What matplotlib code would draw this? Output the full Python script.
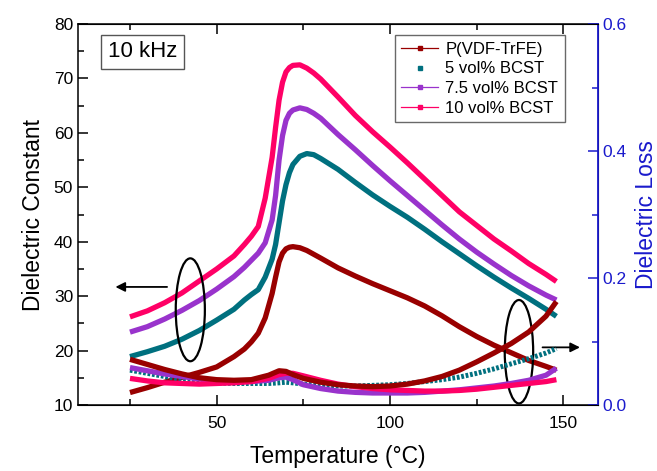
import numpy as np
import matplotlib.pyplot as plt
from matplotlib.patches import Ellipse
from matplotlib.lines import Line2D
from matplotlib.ticker import MultipleLocator

plt.rcParams['font.family'] = ['Liberation Sans', 'DejaVu Sans']

# temperatura (C)
temp = [25, 30, 35, 40, 45, 50, 55, 58, 60, 62, 64, 66, 67, 68, 69, 70, 71, 72,
        74, 76, 78, 80, 85, 90, 95, 100, 105, 110, 115, 120, 125, 130, 135, 140,
        145, 148]

# constante dielectrica
eps_pvdf = [12.3, 13.2, 14.2, 15.1, 16.0, 17.0, 18.9, 20.3, 21.6, 23.2, 26.0, 30.5,
            33.5, 36.3, 37.9, 38.7, 39.0, 39.1, 38.9, 38.4, 37.7, 37.0, 35.2, 33.7,
            32.3, 31.0, 29.7, 28.2, 26.4, 24.4, 22.6, 21.0, 19.6, 18.2, 17.1, 16.4]
eps_5 = [18.9, 19.8, 20.8, 22.1, 23.7, 25.6, 27.6, 29.3, 30.3, 31.2, 33.5, 36.8,
         39.5, 43.5, 47.5, 50.5, 52.7, 54.2, 55.7, 56.2, 56.0, 55.3, 53.3, 50.9,
         48.6, 46.5, 44.5, 42.3, 40.0, 37.8, 35.6, 33.5, 31.5, 29.6, 27.6, 26.3]
eps_75 = [23.4, 24.4, 25.8, 27.4, 29.2, 31.3, 33.6, 35.3, 36.6, 37.9, 39.8, 44.0,
          48.5, 55.0, 59.5, 62.3, 63.6, 64.2, 64.6, 64.3, 63.6, 62.7, 59.7, 56.9,
          54.0, 51.2, 48.5, 45.8, 43.1, 40.5, 38.1, 35.9, 33.8, 31.9, 30.2, 29.3]
eps_10 = [26.2, 27.3, 28.8, 30.6, 32.8, 35.0, 37.4, 39.5, 41.0, 42.8, 48.0, 55.5,
          61.0, 66.0, 69.3, 71.2, 72.0, 72.4, 72.5, 71.9, 71.0, 69.9, 66.6, 63.2,
          60.2, 57.4, 54.5, 51.5, 48.5, 45.5, 43.0, 40.5, 38.3, 36.0, 34.0, 32.7]

# perdida dielectrica
temp_loss = [25, 30, 35, 40, 45, 50, 55, 60, 65, 68, 70, 72, 75, 80, 85, 90, 95,
             100, 105, 110, 115, 120, 125, 130, 135, 140, 145, 148]
loss_pvdf = [0.072, 0.064, 0.056, 0.049, 0.043, 0.040, 0.039, 0.040, 0.047, 0.054,
             0.053, 0.048, 0.042, 0.036, 0.032, 0.030, 0.029, 0.030, 0.033, 0.038,
             0.045, 0.055, 0.068, 0.082, 0.097, 0.115, 0.140, 0.163]
loss_5 = [0.055, 0.050, 0.045, 0.040, 0.037, 0.035, 0.034, 0.034, 0.034, 0.035,
          0.036, 0.035, 0.033, 0.031, 0.030, 0.030, 0.031, 0.032, 0.034, 0.037,
          0.040, 0.044, 0.050, 0.057, 0.065, 0.073, 0.082, 0.089]
loss_75 = [0.059, 0.054, 0.049, 0.045, 0.041, 0.038, 0.037, 0.037, 0.039, 0.043,
           0.044, 0.040, 0.032, 0.026, 0.022, 0.020, 0.019, 0.019, 0.019, 0.020,
           0.022, 0.024, 0.027, 0.030, 0.034, 0.039, 0.047, 0.058]
loss_10 = [0.042, 0.038, 0.035, 0.034, 0.033, 0.034, 0.035, 0.037, 0.042, 0.048,
           0.050, 0.050, 0.046, 0.039, 0.033, 0.029, 0.026, 0.024, 0.023, 0.022,
           0.022, 0.023, 0.025, 0.028, 0.031, 0.034, 0.037, 0.040]

etiquetas = ['P(VDF-TrFE)', '5 vol% BCST', '7.5 vol% BCST', '10 vol% BCST']
colores = ['#990000', '#00707f', '#9933cc', '#ff0066']
azul = '#1a1acc'

fig = plt.figure(figsize=(6.57, 4.71), dpi=100)
ax = fig.add_axes([0.1187, 0.140, 0.7915, 0.809])
ax2 = ax.twinx()

lw = 3.8
for eps, c in zip([eps_pvdf, eps_5, eps_75, eps_10], colores):
    ax.plot(temp, eps, color=c, lw=lw, solid_capstyle='butt',
            solid_joinstyle='round', zorder=3)

ax2.plot(temp_loss, loss_5, color=colores[1], lw=3.6, ls=(0, (0.55, 0.35)), zorder=2)
ax2.plot(temp_loss, loss_75, color=colores[2], lw=lw, solid_capstyle='butt',
         solid_joinstyle='round', zorder=3)
ax2.plot(temp_loss, loss_10, color=colores[3], lw=lw, solid_capstyle='butt',
         solid_joinstyle='round', zorder=3)
ax2.plot(temp_loss, loss_pvdf, color=colores[0], lw=lw, solid_capstyle='butt',
         solid_joinstyle='round', zorder=4)

# elipses y flechas
ax.add_patch(Ellipse((42.4, 27.5), 8.4, 18.9, fill=False, ec='black', lw=1.6, zorder=5))
ax.annotate('', xy=(20.0, 31.7), xytext=(36.5, 31.7),
            arrowprops=dict(arrowstyle='-|>', color='black', lw=1.3, mutation_scale=14))
ax.add_patch(Ellipse((137.2, 19.8), 8.2, 19.0, fill=False, ec='black', lw=1.6, zorder=5))
ax.annotate('', xy=(155.6, 20.6), xytext=(143.2, 20.6),
            arrowprops=dict(arrowstyle='-|>', color='black', lw=1.3, mutation_scale=14))

ax.set_xlim(10, 160)
ax.set_ylim(10, 80)
ax2.set_ylim(0.0, 0.6)

ax.xaxis.set_major_locator(MultipleLocator(50))
ax.xaxis.set_minor_locator(MultipleLocator(25))
ax.yaxis.set_major_locator(MultipleLocator(10))
ax.yaxis.set_minor_locator(MultipleLocator(5))
ax2.yaxis.set_major_locator(MultipleLocator(0.2))
ax2.yaxis.set_minor_locator(MultipleLocator(0.1))
ax2.yaxis.set_major_formatter(plt.FormatStrFormatter('%.1f'))

ax.tick_params(which='both', direction='in', top=True, labelsize=12.5, width=1.1)
ax.tick_params(which='major', length=7)
ax.tick_params(which='minor', length=4)
ax.tick_params(axis='x', pad=8)
ax2.tick_params(which='both', direction='in', colors=azul, labelsize=12.5, width=1.1)
ax2.tick_params(which='major', length=7)
ax2.tick_params(which='minor', length=4)

for s in ['left', 'top', 'bottom']:
    ax.spines[s].set_linewidth(1.1)
ax2.spines['right'].set_color(azul)
ax2.spines['right'].set_linewidth(1.3)
ax2.spines['left'].set_visible(False)

ax.set_xlabel('Temperature (°C)', fontsize=16.5, labelpad=10)
ax.set_ylabel('Dielectric Constant', fontsize=16.5, labelpad=6)
ax2.set_ylabel('Dielectric Loss', fontsize=16.5, color=azul, labelpad=6)

ax.text(0.058, 0.955, '10 kHz', transform=ax.transAxes, fontsize=16,
        ha='left', va='top',
        bbox=dict(boxstyle='square,pad=0.3', fc='white', ec='#555555', lw=1.0))

# leyenda
handles = [
    Line2D([], [], color=colores[0], lw=0.9, marker='s', ms=3.5),
    Line2D([], [], color=colores[1], lw=0, marker='s', ms=3.5),
    Line2D([], [], color=colores[2], lw=0.9, marker='s', ms=3.5),
    Line2D([], [], color=colores[3], lw=0.9, marker='s', ms=3.5),
]
leg = ax.legend(handles, etiquetas, loc='upper right', bbox_to_anchor=(0.9365, 0.971),
                fontsize=12, frameon=True, fancybox=False, handlelength=2.2,
                handletextpad=0.45, labelspacing=0.28, borderpad=0.4, borderaxespad=0)
leg.get_frame().set_edgecolor('#444444')
leg.get_frame().set_linewidth(1.0)
leg.set_zorder(10)

plt.savefig('out.png', dpi=100)
